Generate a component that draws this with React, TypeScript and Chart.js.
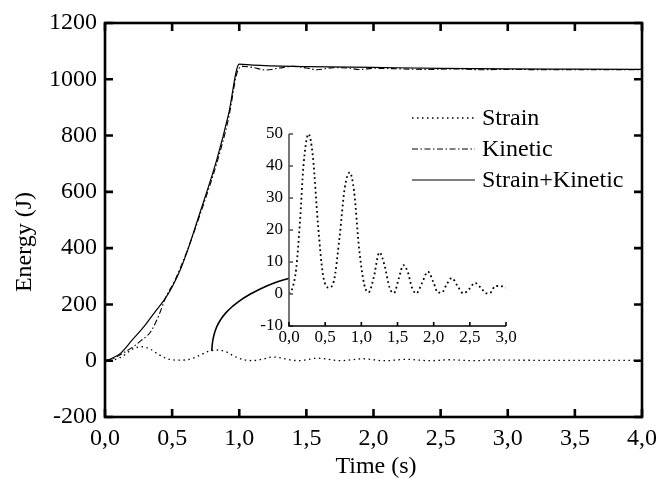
import React, { useEffect, useRef } from "react";
import { Chart, registerables } from "chart.js";

Chart.register(...registerables);

const FONT = "'Liberation Serif', 'Times New Roman', serif";

// ---- data ----
const strainT = [0, 0.05, 0.1, 0.15, 0.2, 0.27, 0.33, 0.4, 0.47, 0.55, 0.62, 0.7, 0.77, 0.84, 0.9, 0.97, 1.04, 1.1, 1.17, 1.25, 1.32, 1.39, 1.45, 1.52, 1.58, 1.64, 1.7, 1.76, 1.84, 1.92, 2.0, 2.06, 2.11, 2.18, 2.25, 2.33, 2.41, 2.49, 2.57, 2.65, 2.73, 2.79, 2.85, 2.92, 3.0, 3.3, 3.6, 4.0];
const strainE = [0, 2, 8, 22, 40, 50, 43, 22, 6, 2, 4, 18, 33, 38, 32, 14, 3, 0.5, 5, 13, 9, 2, 0.3, 5, 9, 7, 2, 0.2, 3.5, 7, 3.5, 0.4, 0.4, 3, 5, 2.5, 0.2, 1.5, 3.5, 2, 0.2, 0.5, 2.5, 2.5, 2, 1.5, 1.5, 1.5];

const kineticT = [0, 0.05, 0.11, 0.21, 0.27, 0.34, 0.4, 0.45, 0.52, 0.61, 0.71, 0.83, 0.92, 0.99, 1.03, 1.1, 1.2, 1.3, 1.4, 1.5, 1.58, 1.7, 1.8, 1.9, 2.0, 2.2, 2.4, 2.6, 2.8, 3.0, 3.3, 4.0];
const kineticE = [0, 5, 20, 50, 72, 103, 160, 222, 285, 388, 522, 698, 860, 1032, 1046, 1042, 1033, 1040, 1046, 1040, 1034, 1041, 1040, 1035, 1039, 1037, 1035, 1037, 1034, 1035, 1034, 1034];

const sumT = [0, 0.05, 0.12, 0.2, 0.29, 0.37, 0.44, 0.5, 0.56, 0.61, 0.71, 0.83, 0.92, 1.0, 1.1, 1.5, 2.0, 2.5, 3.0, 3.5, 4.0];
const sumE = [0, 8, 28, 72, 121, 172, 215, 262, 322, 385, 530, 710, 875, 1054, 1050, 1045, 1042, 1039, 1037, 1036, 1035];

// pointer curve from the strain curve to the inset
const pointerT = [0.795, 0.8, 0.81, 0.83, 0.86, 0.9, 0.95, 1.0, 1.08, 1.16, 1.26, 1.37];
const pointerE = [35, 62, 88, 118, 145, 170, 193, 212, 236, 256, 276, 293];

const seriesLabels = ["Strain", "Kinetic", "Strain+Kinetic"];
const xTitle = "Time (s)";
const yTitle = "Energy (J)";

const mainX = { min: 0, max: 4, step: 0.5 };
const mainY = { min: -200, max: 1200, step: 200 };
const insetX = { min: 0, max: 3, step: 0.5 };
const insetY = { min: -10, max: 50, step: 10 };

const pts = (t: number[], e: number[]) => t.map((x, i) => ({ x, y: e[i] }));
const comma = (v: number) => v.toFixed(1).replace(".", ",");

const DOT = [1.5, 3.5];
const DASHDOT = [6, 2.5, 1.5, 2.5];

const mainAxesPlugin = {
  id: "mainAxes",
  afterDraw(chart: any) {
    const ctx = chart.ctx;
    const { left, right, top, bottom } = chart.chartArea;
    const xs = chart.scales.x;
    const ys = chart.scales.y;
    ctx.save();
    ctx.strokeStyle = "#000";
    ctx.lineWidth = 2.6;
    ctx.lineCap = "butt";
    ctx.strokeRect(left, top, right - left, bottom - top);
    const tl = 8;
    xs.ticks.forEach((t: any) => {
      const px = xs.getPixelForValue(t.value);
      ctx.beginPath();
      ctx.moveTo(px, bottom);
      ctx.lineTo(px, bottom - tl);
      ctx.moveTo(px, top);
      ctx.lineTo(px, top + tl);
      ctx.stroke();
    });
    ys.ticks.forEach((t: any) => {
      const py = ys.getPixelForValue(t.value);
      ctx.beginPath();
      ctx.moveTo(left, py);
      ctx.lineTo(left + tl, py);
      ctx.moveTo(right, py);
      ctx.lineTo(right - tl, py);
      ctx.stroke();
    });
    // axis titles
    ctx.fillStyle = "#000";
    ctx.font = `24px ${FONT}`;
    ctx.textAlign = "center";
    ctx.textBaseline = "middle";
    ctx.fillText(xTitle, 376, 467);
    ctx.save();
    ctx.translate(25, 242);
    ctx.rotate(-Math.PI / 2);
    ctx.fillText(yTitle, 0, 0);
    ctx.restore();
    // legend
    const rows = [118, 149, 180];
    chart.data.datasets.slice(0, 3).forEach((ds: any, i: number) => {
      ctx.beginPath();
      ctx.lineWidth = ds.borderWidth;
      ctx.setLineDash(ds.borderDash || []);
      ctx.moveTo(412, rows[i]);
      ctx.lineTo(475, rows[i]);
      ctx.stroke();
      ctx.setLineDash([]);
      ctx.textAlign = "left";
      ctx.fillText(ds.label, 482, rows[i] + 1);
    });
    ctx.restore();
  },
};

const insetAxesPlugin = {
  id: "insetAxes",
  afterDraw(chart: any) {
    const ctx = chart.ctx;
    const { left, right, top, bottom } = chart.chartArea;
    const xs = chart.scales.x;
    const ys = chart.scales.y;
    ctx.save();
    ctx.lineWidth = 1.6;
    ctx.strokeStyle = "#555";
    ctx.beginPath();
    ctx.moveTo(left, top);
    ctx.lineTo(left, bottom);
    ctx.stroke();
    ys.ticks.forEach((t: any) => {
      const py = ys.getPixelForValue(t.value);
      ctx.beginPath();
      ctx.moveTo(left, py);
      ctx.lineTo(left + 4, py);
      ctx.stroke();
    });
    ctx.strokeStyle = "#000";
    ctx.beginPath();
    ctx.moveTo(left - 0.8, bottom);
    ctx.lineTo(right, bottom);
    ctx.stroke();
    xs.ticks.forEach((t: any) => {
      const px = xs.getPixelForValue(t.value);
      ctx.beginPath();
      ctx.moveTo(px, bottom);
      ctx.lineTo(px, bottom - 4);
      ctx.stroke();
    });
    ctx.restore();
  },
};

function MainChart() {
  const ref = useRef<HTMLCanvasElement>(null);
  useEffect(() => {
    const chart = new Chart(ref.current!, {
      type: "line",
      data: {
        datasets: [
          {
            label: seriesLabels[0],
            data: pts(strainT, strainE),
            borderColor: "#000",
            borderWidth: 1.3,
            borderDash: DOT,
            pointRadius: 0,
            cubicInterpolationMode: "monotone",
          },
          {
            label: seriesLabels[1],
            data: pts(kineticT, kineticE),
            borderColor: "#000",
            borderWidth: 1.1,
            borderDash: DASHDOT,
            pointRadius: 0,
            cubicInterpolationMode: "monotone",
          },
          {
            label: seriesLabels[2],
            data: pts(sumT, sumE),
            borderColor: "#000",
            borderWidth: 1.2,
            pointRadius: 0,
            cubicInterpolationMode: "monotone",
          },
          {
            label: "pointer",
            data: pts(pointerT, pointerE),
            borderColor: "#000",
            borderWidth: 1.6,
            pointRadius: 0,
            cubicInterpolationMode: "monotone",
          },
        ],
      },
      options: {
        responsive: false,
        animation: false,
        layout: { padding: { top: 23, right: 17, left: 0, bottom: 0 } },
        plugins: { legend: { display: false }, tooltip: { enabled: false } },
        scales: {
          x: {
            type: "linear",
            min: mainX.min,
            max: mainX.max,
            grid: { display: false, drawTicks: false },
            border: { display: false },
            ticks: {
              stepSize: mainX.step,
              color: "#000",
              font: { family: FONT, size: 24 },
              padding: 7,
              maxRotation: 0,
              callback: (v: any) => comma(Number(v)),
            },
            afterFit: (s: any) => {
              s.height = 71;
              s.paddingLeft = 0;
              s.paddingRight = 0;
            },
          },
          y: {
            type: "linear",
            min: mainY.min,
            max: mainY.max,
            grid: { display: false, drawTicks: false },
            border: { display: false },
            ticks: {
              stepSize: mainY.step,
              color: "#000",
              font: { family: FONT, size: 24 },
              padding: 8,
              callback: (v: any) => String(v),
            },
            afterFit: (s: any) => {
              s.width = 105;
              s.paddingTop = 0;
              s.paddingBottom = 0;
            },
          },
        },
      },
      plugins: [mainAxesPlugin],
    } as any);
    return () => chart.destroy();
  }, []);
  return <canvas ref={ref} width={659} height={488} />;
}

function InsetChart() {
  const ref = useRef<HTMLCanvasElement>(null);
  useEffect(() => {
    const chart = new Chart(ref.current!, {
      type: "line",
      data: {
        datasets: [
          {
            label: seriesLabels[0],
            data: pts(strainT, strainE).filter((p) => p.x <= insetX.max),
            borderColor: "#000",
            borderWidth: 1.8,
            borderDash: [1.8, 3],
            pointRadius: 0,
            cubicInterpolationMode: "monotone",
          },
        ],
      },
      options: {
        responsive: false,
        animation: false,
        layout: { padding: { top: 24, right: 24, left: 0, bottom: 0 } },
        plugins: { legend: { display: false }, tooltip: { enabled: false } },
        scales: {
          x: {
            type: "linear",
            min: insetX.min,
            max: insetX.max,
            grid: { display: false, drawTicks: false },
            border: { display: false },
            ticks: {
              stepSize: insetX.step,
              color: "#000",
              font: { family: FONT, size: 17 },
              padding: 1,
              maxRotation: 0,
              callback: (v: any) => comma(Number(v)),
            },
            afterFit: (s: any) => {
              s.height = 29;
              s.paddingLeft = 0;
              s.paddingRight = 0;
            },
          },
          y: {
            type: "linear",
            min: insetY.min,
            max: insetY.max,
            grid: { display: false, drawTicks: false },
            border: { display: false },
            ticks: {
              stepSize: insetY.step,
              color: "#000",
              font: { family: FONT, size: 17 },
              padding: 6,
              callback: (v: any) => String(v),
            },
            afterFit: (s: any) => {
              s.width = 49;
              s.paddingTop = 0;
              s.paddingBottom = 0;
            },
          },
        },
      },
      plugins: [insetAxesPlugin],
    } as any);
    return () => chart.destroy();
  }, []);
  return <canvas ref={ref} width={290} height={245} />;
}

export default function App() {
  return (
    <div style={{ position: "fixed", left: 0, top: 0, width: 659, height: 488, background: "#fff" }}>
      <div style={{ position: "absolute", left: 0, top: 0 }}>
        <MainChart />
      </div>
      <div style={{ position: "absolute", left: 240, top: 110 }}>
        <InsetChart />
      </div>
    </div>
  );
}
